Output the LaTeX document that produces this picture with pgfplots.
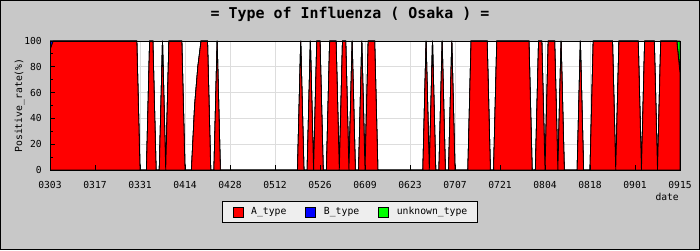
\documentclass[border=0pt]{standalone}
\usepackage{fontspec}
\setmainfont{DejaVu Sans Mono}
\usepackage{pgfplots}
\usepackage{pgfplotstable}
\pgfplotsset{compat=1.18}
\definecolor{bg}{RGB}{200,200,200}
\definecolor{lg}{RGB}{238,238,238}
\definecolor{gridc}{RGB}{221,221,221}
\definecolor{ared}{RGB}{255,0,0}
\definecolor{bblue}{RGB}{0,0,255}
\definecolor{ugreen}{RGB}{0,255,0}
\pgfplotstableread[row sep=\\]{
d a b u\\
0 93 7 0\\ 1 100 0 0\\ 2 100 0 0\\ 3 100 0 0\\ 4 100 0 0\\ 5 100 0 0\\ 6 100 0 0\\ 7 100 0 0\\ 8 100 0 0\\ 9 100 0 0\\
10 100 0 0\\ 11 100 0 0\\ 12 100 0 0\\ 13 100 0 0\\ 14 100 0 0\\ 15 100 0 0\\ 16 100 0 0\\ 17 100 0 0\\ 18 100 0 0\\ 19 100 0 0\\
20 100 0 0\\ 21 100 0 0\\ 22 100 0 0\\ 23 100 0 0\\ 24 100 0 0\\ 25 100 0 0\\ 26 100 0 0\\ 27 100 0 0\\ 28 0 0 0\\ 29 0 0 0\\
30 0 0 0\\ 31 100 0 0\\ 32 100 0 0\\ 33 0 0 0\\ 34 0 0 0\\ 35 100 0 0\\ 36 0 0 0\\ 37 100 0 0\\ 38 100 0 0\\ 39 100 0 0\\
40 100 0 0\\ 41 100 0 0\\ 42 0 0 0\\ 43 0 0 0\\ 44 0 0 0\\ 45 50 0 0\\ 46 80 0 0\\ 47 100 0 0\\ 48 100 0 0\\ 49 100 0 0\\
50 0 0 0\\ 51 0 0 0\\ 52 100 0 0\\ 53 0 0 0\\ 54 0 0 0\\ 55 0 0 0\\ 56 0 0 0\\ 57 0 0 0\\ 58 0 0 0\\ 59 0 0 0\\
60 0 0 0\\ 61 0 0 0\\ 62 0 0 0\\ 63 0 0 0\\ 64 0 0 0\\ 65 0 0 0\\ 66 0 0 0\\ 67 0 0 0\\ 68 0 0 0\\ 69 0 0 0\\
70 0 0 0\\ 71 0 0 0\\ 72 0 0 0\\ 73 0 0 0\\ 74 0 0 0\\ 75 0 0 0\\ 76 0 0 0\\ 77 0 0 0\\ 78 100 0 0\\ 79 0 0 0\\
80 0 0 0\\ 81 100 0 0\\ 82 0 0 0\\ 83 100 0 0\\ 84 100 0 0\\ 85 0 0 0\\ 86 0 0 0\\ 87 100 0 0\\ 88 100 0 0\\ 89 100 0 0\\
90 0 0 0\\ 91 100 0 0\\ 92 100 0 0\\ 93 0 0 0\\ 94 100 0 0\\ 95 0 0 0\\ 96 0 0 0\\ 97 100 0 0\\ 98 0 0 0\\ 99 100 0 0\\
100 100 0 0\\ 101 100 0 0\\ 102 0 0 0\\ 103 0 0 0\\ 104 0 0 0\\ 105 0 0 0\\ 106 0 0 0\\ 107 0 0 0\\ 108 0 0 0\\ 109 0 0 0\\
110 0 0 0\\ 111 0 0 0\\ 112 0 0 0\\ 113 0 0 0\\ 114 0 0 0\\ 115 0 0 0\\ 116 0 0 0\\ 117 100 0 0\\ 118 0 0 0\\ 119 100 0 0\\
120 0 0 0\\ 121 0 0 0\\ 122 100 0 0\\ 123 0 0 0\\ 124 0 0 0\\ 125 100 0 0\\ 126 0 0 0\\ 127 0 0 0\\ 128 0 0 0\\ 129 0 0 0\\
130 0 0 0\\ 131 100 0 0\\ 132 100 0 0\\ 133 100 0 0\\ 134 100 0 0\\ 135 100 0 0\\ 136 100 0 0\\ 137 0 0 0\\ 138 0 0 0\\ 139 100 0 0\\
140 100 0 0\\ 141 100 0 0\\ 142 100 0 0\\ 143 100 0 0\\ 144 100 0 0\\ 145 100 0 0\\ 146 100 0 0\\ 147 100 0 0\\ 148 100 0 0\\ 149 100 0 0\\
150 0 0 0\\ 151 0 0 0\\ 152 100 0 0\\ 153 100 0 0\\ 154 0 0 0\\ 155 100 0 0\\ 156 100 0 0\\ 157 100 0 0\\ 158 0 0 0\\ 159 100 0 0\\
160 0 0 0\\ 161 0 0 0\\ 162 0 0 0\\ 163 0 0 0\\ 164 0 0 0\\ 165 100 0 0\\ 166 0 0 0\\ 167 0 0 0\\ 168 0 0 0\\ 169 100 0 0\\
170 100 0 0\\ 171 100 0 0\\ 172 100 0 0\\ 173 100 0 0\\ 174 100 0 0\\ 175 100 0 0\\ 176 0 0 0\\ 177 100 0 0\\ 178 100 0 0\\ 179 100 0 0\\
180 100 0 0\\ 181 100 0 0\\ 182 100 0 0\\ 183 100 0 0\\ 184 0 0 0\\ 185 100 0 0\\ 186 100 0 0\\ 187 100 0 0\\ 188 100 0 0\\ 189 0 0 0\\
190 100 0 0\\ 191 100 0 0\\ 192 100 0 0\\ 193 100 0 0\\ 194 100 0 0\\ 195 100 0 0\\ 196 75 0 25\\
}\flu
\pgfplotsset{
  frameaxis/.style={
    at={(50bp,80bp)}, anchor=south west,
    width=630bp, height=129bp, scale only axis,
    xmin=0, xmax=196, ymin=0, ymax=100,
    xtick={0,14,...,196}, ytick={0,20,...,100},
    minor y tick num=1,
    xtick pos=bottom, ytick pos=left,
    tick align=inside,
    major tick length=5bp, minor tick length=3bp,
    every tick/.style={black, line width=0.8bp},
    axis line style={black, line width=0.8bp},
  }
}
\begin{document}
\begin{tikzpicture}[x=1bp,y=1bp]
\draw[fill=bg,draw=black,line width=1bp] (0.5,0.5) rectangle (699.5,249.5);
\fill[white] (50,80) rectangle (680,209);
\node[font=\fontsize{15}{17}\selectfont\bfseries,anchor=base] at (350,231.5) {= Type of Influenza ( Osaka ) =};
\begin{axis}[
  frameaxis,
  xticklabels={0303,0317,0331,0414,0428,0512,0526,0609,0623,0707,0721,0804,0818,0901,0915},
  xmajorgrids, ymajorgrids,
  grid style={draw=gridc, line width=0.8bp},
  minor grid style={draw=none},
  tick label style={font=\fontsize{9.7}{11}\selectfont},
  /pgf/number format/assume math mode=true,
  xticklabel style={anchor=north, inner sep=0pt, yshift=-11.5bp},
  yticklabel style={anchor=east, inner sep=0pt, xshift=-8bp},
  xlabel={date},
  xlabel style={at={(axis description cs:1,0)}, anchor=north east, inner sep=0pt, yshift=-22.5bp, xshift=-1bp, font=\fontsize{9.7}{11}\selectfont},
  ylabel={Positive\_rate(\%)},
  ylabel style={at={(axis description cs:-0.0484,0.5)}, anchor=center, inner sep=0pt, font=\fontsize{9.8}{11}\selectfont},
  stack plots=y,
  legend columns=3,
  legend image code/.code={\draw[#1,draw=black,line width=0.8bp] (0bp,-5bp) rectangle (10bp,5bp);},
  legend style={at={(axis description cs:0.4762,-0.3256)}, anchor=center, draw=black, fill=lg, line width=0.8bp,
    font=\fontsize{9.8}{11}\selectfont, inner xsep=10bp, inner ysep=5bp,
    nodes={inner sep=0pt},
    /tikz/every odd column/.append style={column sep=7.7bp},
    /tikz/every even column/.append style={column sep=19bp}},
]
\addplot[fill=ared, draw=black, line width=0.8bp] table[x=d,y=a]{\flu} \closedcycle;
\addlegendentry{A\_type}
\addplot[fill=bblue, draw=black, line width=0.8bp] table[x=d,y=b]{\flu} \closedcycle;
\addlegendentry{B\_type}
\addplot[fill=ugreen, draw=black, line width=0.8bp] table[x=d,y=u]{\flu} \closedcycle;
\addlegendentry{unknown\_type}
\end{axis}
\begin{axis}[frameaxis, xticklabels={}, yticklabels={}]
\end{axis}
\end{tikzpicture}
\end{document}
